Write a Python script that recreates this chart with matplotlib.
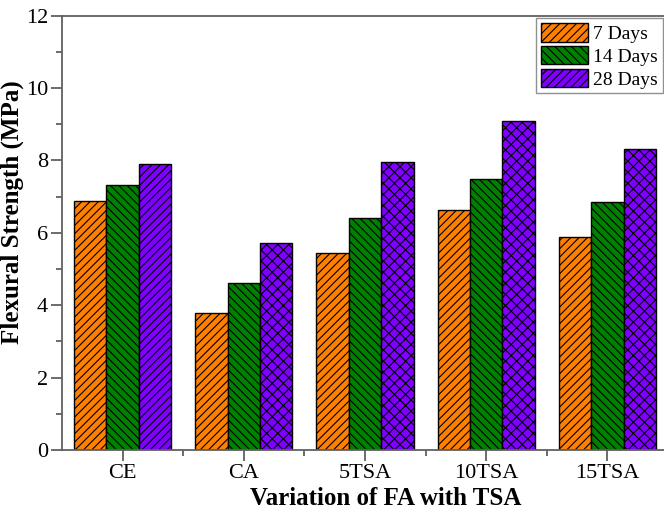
import matplotlib
matplotlib.use("Agg")
import matplotlib.pyplot as plt
import numpy as np
from matplotlib.ticker import MultipleLocator, FixedLocator
from matplotlib.patches import Patch

categories = ["CE", "CA", "5TSA", "10TSA", "15TSA"]
days7 = [6.88, 3.79, 5.45, 6.62, 5.89]
days14 = [7.33, 4.60, 6.41, 7.49, 6.84]
days28 = [7.91, 5.72, 7.95, 9.10, 8.31]
series_names = ["7 Days", "14 Days", "28 Days"]
colors = ["#FF8000", "#008000", "#8000FF"]
hatch28 = ["////", "xxx", "xxx", "xxx", "xxx"]

plt.rcParams["font.family"] = ["Liberation Serif", "DejaVu Serif"]
plt.rcParams["hatch.linewidth"] = 0.8

fig = plt.figure(figsize=(6.64, 5.15), dpi=100)
W, H = 664, 515
ax = fig.add_axes([62 / W, (H - 450) / H, (668 - 62) / W, (450 - 15.5) / H])

x = np.arange(len(categories))
bw = 0.267
axis_col = "#606060"

ax.bar(x - bw, days7, bw, color=colors[0], edgecolor="black", linewidth=1.0, hatch="////")
ax.bar(x, days14, bw, color=colors[1], edgecolor="black", linewidth=1.0, hatch="\\\\\\\\")
b3 = ax.bar(x + bw, days28, bw, color=colors[2], edgecolor="black", linewidth=1.0)
for rect, h in zip(b3, hatch28):
    rect.set_hatch(h)

ax.set_xlim(-0.5, 4.5)
ax.set_ylim(0, 12)
ax.yaxis.set_major_locator(MultipleLocator(2))
ax.yaxis.set_minor_locator(MultipleLocator(1))
ax.set_xticks(x)
ax.set_xticklabels(categories)
ax.xaxis.set_minor_locator(FixedLocator(x[:-1] + 0.5))

for s in ax.spines.values():
    s.set_color(axis_col)
    s.set_linewidth(1.3)

ax.tick_params(axis="both", which="major", direction="out", length=8, width=1.3, color=axis_col, labelsize=16, pad=2)
ax.tick_params(axis="both", which="minor", direction="out", length=4, width=1.3, color=axis_col)
ax.tick_params(axis="x", which="major", pad=2)

ax.set_ylabel("Flexural Strength (MPa)", fontsize=18, fontweight="bold")
ax.yaxis.set_label_coords((24 - 62) / 606, (450 - 212) / 434.5)
ax.set_xlabel("Variation of FA with TSA", fontsize=18, fontweight="bold")
ax.xaxis.set_label_coords((386 - 62) / 606, (450 - 487) / 434.5)

handles = [
    Patch(facecolor=colors[0], edgecolor="black", hatch="////", linewidth=1.0),
    Patch(facecolor=colors[1], edgecolor="black", hatch="\\\\\\\\", linewidth=1.0),
    Patch(facecolor=colors[2], edgecolor="black", hatch="////", linewidth=1.0),
]
leg = fig.legend(handles, series_names, loc="upper right", bbox_to_anchor=(663 / W, (H - 18) / H),
                 fontsize=14, frameon=True, fancybox=False, edgecolor="#909090",
                 handlelength=2.4, handleheight=1.1, handletextpad=0.3, labelspacing=0.15,
                 borderpad=0.25, borderaxespad=0.0, framealpha=1)
leg.get_frame().set_linewidth(1.0)

fig.savefig("out.png", dpi=100)
